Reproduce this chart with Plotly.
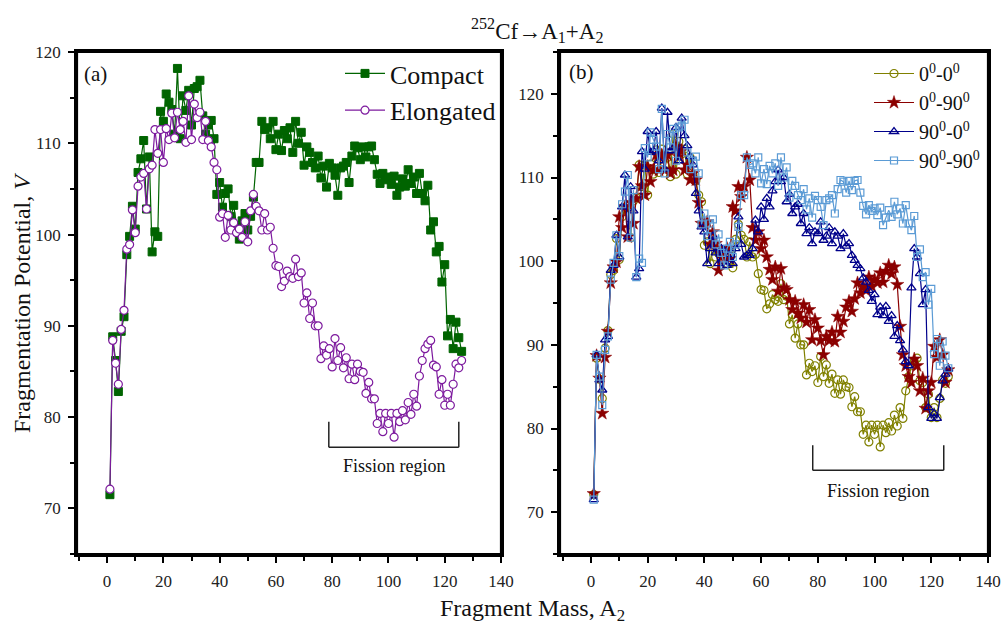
import plotly.graph_objects as go

A2 = list(range(1, 127))

# Left panel (a) / right panel (b): Compact == 90-90, Elongated == 0-0
compact = [71.5, 88.8, 86.2, 82.8, 89.4, 91.0, 97.8, 99.8, 103.1, 100.6,
           106.8, 108.3, 110.3, 102.8, 108.5, 98.1, 100.3, 99.8, 113.5, 112.4,
           115.4, 114.5, 113.7, 111.0, 118.2, 110.5, 115.2, 113.6, 115.8, 112.0,
           116.0, 116.2, 116.9, 113.0, 111.0, 112.0, 112.5, 110.5, 104.4, 105.7,
           103.0, 104.5, 105.0, 102.0, 103.2, 101.0, 99.5, 101.5, 102.3, 100.5,
           102.0, 104.1, 107.9, 107.9, 112.4, 111.5, 111.7, 110.5, 112.4, 109.3,
           111.0, 109.2, 111.4, 110.5, 111.7, 109.0, 112.4, 110.0, 111.2, 107.6,
           109.6, 109.0, 107.9, 107.3, 108.6, 106.2, 107.5, 105.2, 107.8, 107.3,
           106.5, 104.3, 107.3, 107.5, 107.9, 105.7, 108.6, 109.7, 109.5, 108.2,
           109.6, 108.5, 109.6, 109.7, 108.2, 106.6, 105.6, 106.7, 106.0, 106.3,
           105.5, 106.4, 104.3, 105.2, 106.1, 105.3, 107.1, 105.6, 106.3, 104.5,
           106.7, 104.5, 103.7, 105.4, 100.5, 101.4, 98.1, 98.7, 94.8, 96.7,
           88.9, 90.7, 87.5, 90.4, 88.7, 87.2]

elongated = [72.1, 88.4, 85.9, 83.6, 89.6, 91.7, 98.4, 98.9, 102.7, 100.2,
             105.3, 106.3, 106.7, 102.8, 107.2, 107.6, 111.5, 108.9, 111.5, 107.9,
             111.6, 110.4, 113.3, 110.6, 113.4, 111.5, 112.4, 110.1, 115.2, 110.4,
             114.3, 112.8, 113.4, 110.4, 112.4, 110.3, 109.6, 107.9, 107.1, 101.9,
             102.3, 99.7, 102.1, 100.5, 101.3, 100.2, 100.6, 99.7, 101.4, 99.2,
             102.6, 104.4, 103.1, 102.6, 100.5, 102.3, 100.5, 100.8, 98.5, 96.6,
             96.5, 94.3, 94.9, 96.0, 95.4, 95.2, 97.3, 95.4, 95.8, 92.5,
             93.6, 90.8, 92.5, 90.0, 90.0, 86.4, 87.8, 86.8, 87.5, 85.5,
             88.6, 86.2, 87.6, 85.4, 86.5, 84.2, 85.8, 84.1, 85.8, 85.0,
             84.9, 82.6, 83.8, 82.0, 82.0, 79.3, 80.4, 78.4, 80.4, 79.3,
             80.4, 77.8, 80.4, 79.5, 80.7, 79.7, 81.6, 80.3, 82.5, 81.2,
             84.5, 86.2, 87.5, 88.0, 88.4, 85.7, 85.5, 82.5, 84.1, 81.3,
             82.5, 81.3, 83.6, 85.8, 85.4, 86.2]

or_0_90 = [72.2, 88.7, 86.0, 81.8, 88.5, 91.6, 97.4, 99.3, 99.9, 105.3,
           104.0, 106.5, 102.9, 107.0, 104.5, 107.5, 111.3, 109.0, 107.9, 111.3,
           109.5, 110.9, 112.7, 110.9, 112.7, 110.9, 112.7, 110.5, 110.9, 113.7,
           112.5, 113.2, 110.9, 111.5, 109.7, 110.5, 109.7, 107.0, 104.5, 104.5,
           104.7, 102.0, 103.5, 102.1, 98.9, 101.0, 100.2, 101.5, 100.3, 106.5,
           106.0, 108.9, 107.7, 108.9, 112.4, 109.7, 104.0, 102.5, 103.5, 101.5,
           102.5, 100.5, 99.0, 97.8, 99.3, 96.4, 99.1, 96.8, 96.6, 95.4,
           94.2, 95.2, 93.8, 93.2, 94.8, 92.7, 94.2, 90.6, 93.0, 92.0,
           90.5, 88.8, 91.0, 90.5, 91.5, 90.4, 93.4, 91.5, 92.8, 94.5,
           95.2, 94.0, 95.5, 97.4, 96.2, 97.0, 96.5, 98.1, 97.0, 97.8,
           97.4, 98.6, 97.5, 98.8, 99.5, 98.5, 99.3, 97.2, 92.2, 88.8,
           87.5, 86.2, 85.5, 88.3, 87.5, 84.5, 86.0, 82.4, 84.5, 85.5,
           89.8, 88.5, 90.6, 88.8, 85.5, 87.0]

or_90_0 = [71.5, 88.8, 85.8, 84.6, 90.6, 91.0, 98.9, 99.5, 103.1, 100.5,
           106.5, 110.3, 102.9, 108.9, 106.0, 98.1, 99.1, 113.1, 111.0, 115.5,
           113.0, 113.2, 115.5, 112.0, 118.3, 111.0, 117.8, 113.2, 113.5, 116.0,
           112.0, 117.1, 115.0, 113.8, 112.5, 111.5, 108.1, 106.0, 104.1, 103.5,
           99.7, 101.5, 103.0, 101.0, 99.7, 101.5, 101.3, 99.5, 100.8, 99.7,
           101.5, 105.3, 102.0, 100.5, 100.7, 100.7, 101.5, 104.9, 103.5, 106.5,
           105.0, 107.5, 106.5, 108.4, 109.5, 110.9, 109.5, 110.0, 107.1, 108.0,
           105.7, 106.5, 106.8, 104.5, 105.7, 103.3, 104.0, 102.1, 103.5, 103.3,
           104.7, 102.5, 103.0, 104.0, 102.1, 103.5, 103.0, 101.5, 103.3, 101.8,
           102.1, 100.7, 100.1, 99.5, 99.1, 98.0, 97.5, 96.5, 95.2, 96.0,
           93.6, 94.5, 93.5, 94.6, 92.8, 93.5, 91.0, 92.3, 90.5, 89.4,
           88.0, 87.5, 96.8, 101.5, 100.5, 98.5, 94.8, 96.6, 82.5, 81.2,
           81.8, 81.2, 83.7, 85.7, 86.5, 87.1]

or_0_0 = elongated
or_90_90 = compact

X_TICKS = [0, 20, 40, 60, 80, 100, 120, 140]
Y_TICKS = [70, 80, 90, 100, 110, 120]

FONT = "Liberation Serif"

fig = go.Figure()

fig.add_trace(go.Scatter(x=A2, y=compact, name="Compact", mode="lines+markers",
                         line=dict(color="#006400", width=1.2),
                         marker=dict(symbol="square", size=8, color="#006400",
                                     line=dict(color="#006400", width=1)),
                         xaxis="x", yaxis="y", legend="legend"))
fig.add_trace(go.Scatter(x=A2, y=elongated, name="Elongated", mode="lines+markers",
                         line=dict(color="#7D1A9E", width=1.2),
                         marker=dict(symbol="circle", size=8, color="white",
                                     line=dict(color="#7D1A9E", width=1.2)),
                         xaxis="x", yaxis="y", legend="legend"))

fig.add_trace(go.Scatter(x=A2, y=or_0_0, name="0<sup>0</sup>-0<sup>0</sup>",
                         mode="lines+markers",
                         line=dict(color="#808000", width=1.2),
                         marker=dict(symbol="circle-open", size=8, color="#808000",
                                     line=dict(width=1.2)),
                         xaxis="x2", yaxis="y2", legend="legend2"))
fig.add_trace(go.Scatter(x=A2, y=or_0_90, name="0<sup>0</sup>-90<sup>0</sup>",
                         mode="lines+markers",
                         line=dict(color="#8B0000", width=1.2),
                         marker=dict(symbol="star", size=10, color="#8B0000",
                                     line=dict(color="#8B0000", width=0.5)),
                         xaxis="x2", yaxis="y2", legend="legend2"))
fig.add_trace(go.Scatter(x=A2, y=or_90_0, name="90<sup>0</sup>-0<sup>0</sup>",
                         mode="lines+markers",
                         line=dict(color="#00008B", width=1.2),
                         marker=dict(symbol="triangle-up-open", size=8, color="#00008B",
                                     line=dict(width=1.3)),
                         xaxis="x2", yaxis="y2", legend="legend2"))
fig.add_trace(go.Scatter(x=A2, y=or_90_90, name="90<sup>0</sup>-90<sup>0</sup>",
                         mode="lines+markers",
                         line=dict(color="#5B9BD5", width=1.2),
                         marker=dict(symbol="square-open", size=7, color="#5B9BD5",
                                     line=dict(width=1.2)),
                         xaxis="x2", yaxis="y2", legend="legend2"))

W, H = 1001, 634
ydom = [1 - 554 / H, 1 - 52 / H]

axis_common = dict(showline=True, linecolor="black", linewidth=2.5, mirror=True,
                   ticks="outside", ticklen=6, tickwidth=2, tickcolor="black",
                   showgrid=False, zeroline=False, automargin=False,
                   ticklabelstandoff=4,
                   tickfont=dict(family=FONT, size=17, color="#222"))

minor_x = dict(ticks="outside", ticklen=4, tickwidth=2, dtick=10, tick0=0, tickcolor="black")
minor_y = dict(ticks="outside", ticklen=4, tickwidth=2, dtick=5, tick0=0, tickcolor="black")

fig.update_layout(
    width=W, height=H,
    margin=dict(l=0, r=0, t=0, b=0, autoexpand=False),
    paper_bgcolor="white", plot_bgcolor="white",
    font=dict(family=FONT, color="#111"),
    xaxis=dict(domain=[77 / W, 501 / W], range=[-10.7, 140], anchor="y",
               tickvals=X_TICKS, minor=minor_x, **axis_common),
    yaxis=dict(domain=ydom, range=[65, 120], anchor="x", tickvals=Y_TICKS,
               minor=minor_y, **axis_common),
    xaxis2=dict(domain=[560 / W, 988 / W], range=[-10.9, 140], anchor="y2",
                tickvals=X_TICKS, minor=minor_x, **axis_common),
    yaxis2=dict(domain=ydom, range=[65, 125], anchor="x2", tickvals=Y_TICKS,
                minor=minor_y, **axis_common),
    legend=dict(x=340 / W, y=1 - 50 / H, xanchor="left", yanchor="top",
                bgcolor="rgba(0,0,0,0)", font=dict(family=FONT, size=26, color="#111"),
                tracegroupgap=0, itemwidth=40),
    legend2=dict(x=869 / W, y=1 - 54 / H, xanchor="left", yanchor="top",
                 bgcolor="rgba(0,0,0,0)", font=dict(family=FONT, size=20, color="#111"),
                 tracegroupgap=0, itemwidth=40),
    showlegend=True,
)

annotations = [
    dict(text="<sup>252</sup>Cf→A<sub>1</sub>+A<sub>2</sub>", x=537 / W, y=1 - 30 / H,
         xref="paper", yref="paper", xanchor="center", yanchor="middle", showarrow=False,
         font=dict(family=FONT, size=23, color="#111")),
    dict(text="Fragmentation Potential, <i>V</i>", x=22 / W, y=1 - 303 / H,
         xref="paper", yref="paper", xanchor="center", yanchor="middle",
         showarrow=False, textangle=-90,
         font=dict(family=FONT, size=24, color="#111")),
    dict(text="Fragment Mass, A<sub>2</sub>", x=532 / W, y=1 - 610 / H,
         xref="paper", yref="paper", xanchor="center", yanchor="middle", showarrow=False,
         font=dict(family=FONT, size=24, color="#111")),
    dict(text="(a)", x=82 / W, y=1 - 74 / H, xref="paper", yref="paper",
         xanchor="left", yanchor="middle", showarrow=False,
         font=dict(family=FONT, size=21, color="#111")),
    dict(text="(b)", x=567 / W, y=1 - 72 / H, xref="paper", yref="paper",
         xanchor="left", yanchor="middle", showarrow=False,
         font=dict(family=FONT, size=21, color="#111")),
    dict(text="Fission region", x=102, y=74.6, xref="x", yref="y", showarrow=False,
         xanchor="center", yanchor="middle",
         font=dict(family=FONT, size=18, color="#111")),
    dict(text="Fission region", x=101.3, y=72.5, xref="x2", yref="y2", showarrow=False,
         xanchor="center", yanchor="middle",
         font=dict(family=FONT, size=18, color="#111")),
]
fig.update_layout(annotations=annotations)

shapes = []
# dark panel frames
for xr, yr in [("x domain", "y domain"), ("x2 domain", "y2 domain")]:
    shapes.append(dict(type="rect", xref=xr, yref=yr, x0=0, x1=1, y0=0, y1=1,
                       line=dict(color="black", width=2.2), layer="above"))
for xr, yr, x0, x1, ytop, ybot in [("x", "y", 78.8, 125.0, 79.5, 76.7),
                                   ("x2", "y2", 78.2, 124.4, 78.0, 75.0)]:
    ln = dict(color="#222", width=1.5)
    shapes.append(dict(type="line", xref=xr, yref=yr, x0=x0, x1=x0, y0=ytop, y1=ybot, line=ln))
    shapes.append(dict(type="line", xref=xr, yref=yr, x0=x1, x1=x1, y0=ytop, y1=ybot, line=ln))
    shapes.append(dict(type="line", xref=xr, yref=yr, x0=x0, x1=x1, y0=ybot, y1=ybot, line=ln))
fig.update_layout(shapes=shapes)

fig.write_html("out.html")
